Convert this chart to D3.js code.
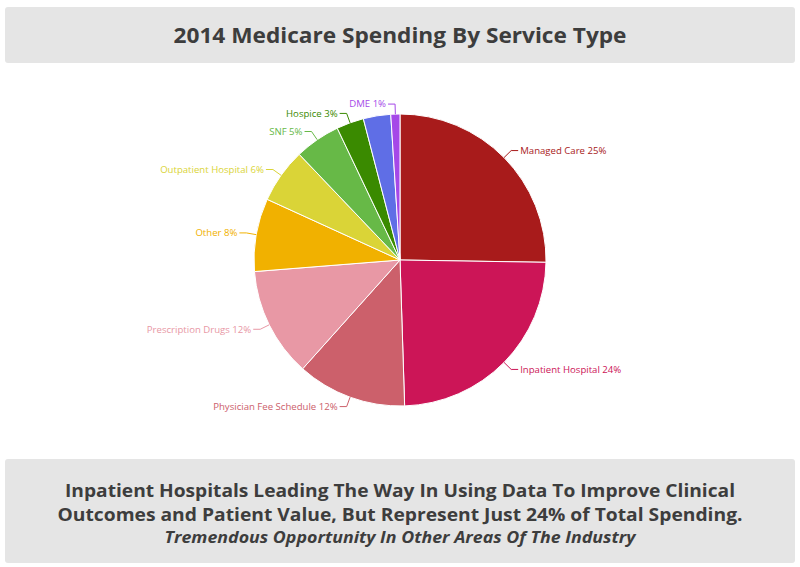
<!DOCTYPE html>
<html>
<head>
<meta charset="utf-8">
<script src="https://cdn.jsdelivr.net/npm/d3@7"></script>
<style>
  html, body { margin: 0; padding: 0; background: #fff; }
  svg { display: block; font-family: "Open Sans", sans-serif; }
</style>
</head>
<body>
<svg id="chart" width="800" height="567"></svg>
<script>
// data, clockwise from 12 o'clock
const categories = ['Managed Care', 'Inpatient Hospital', 'Physician Fee Schedule', 'Prescription Drugs',
  'Other', 'Outpatient Hospital', 'SNF', 'Hospice', 'Home Health', 'DME'];
const shares = [25, 24, 12, 12, 8, 6, 5, 3, 3, 1];
const showLabel = [true, true, true, true, true, true, true, true, false, true];
const colors = ['#a81b1b', '#cc1557', '#cc606b', '#e898a5', '#f1b100', '#dad437',
  '#67b947', '#3a8a00', '#5f6ee6', '#a548e8'];

const titleText = '2014 Medicare Spending By Service Type';
const footerLines = [
  'Inpatient Hospitals Leading The Way In Using Data To Improve Clinical',
  'Outcomes and Patient Value, But Represent Just 24% of Total Spending.'
];
const footerItalic = 'Tremendous Opportunity In Other Areas Of The Industry';

const svg = d3.select('#chart');
const W = 800;

// header box
svg.append('rect').attr('x', 5).attr('y', 7).attr('width', 790).attr('height', 56)
  .attr('rx', 3).attr('fill', '#e5e5e5');
svg.append('text').attr('x', W / 2).attr('y', 43).attr('text-anchor', 'middle')
  .attr('font-size', 22).attr('font-weight', 700).attr('fill', '#3d3d3d')
  .attr('textLength', 453).attr('lengthAdjust', 'spacingAndGlyphs')
  .text(titleText);

// footer box
svg.append('rect').attr('x', 5).attr('y', 459).attr('width', 790).attr('height', 104)
  .attr('rx', 3).attr('fill', '#e5e5e5');
const footLens = [670, 685];
footerLines.forEach((t, i) => {
  svg.append('text').attr('x', W / 2).attr('y', 497 + i * 24).attr('text-anchor', 'middle')
    .attr('font-size', 17.5).attr('font-weight', 700).attr('fill', '#3d3d3d')
    .attr('textLength', footLens[i]).attr('lengthAdjust', 'spacingAndGlyphs')
    .text(t);
});
svg.append('text').attr('x', W / 2).attr('y', 543).attr('text-anchor', 'middle')
  .attr('font-size', 15.5).attr('font-weight', 700).attr('font-style', 'italic').attr('fill', '#3d3d3d')
  .attr('textLength', 471).attr('lengthAdjust', 'spacingAndGlyphs')
  .text(footerItalic);

// pie
const cx = 400, cy = 260, r = 146, labelR = 156;
const data = categories.map((c, i) => ({ name: c, value: shares[i], color: colors[i], show: showLabel[i] }));
const pie = d3.pie().value(d => d.value).sort(null);
const arcs = pie(data);
const arc = d3.arc().innerRadius(0).outerRadius(r);

const g = svg.append('g').attr('transform', `translate(${cx},${cy})`);
g.selectAll('path.slice').data(arcs).join('path')
  .attr('class', 'slice')
  .attr('d', arc)
  .attr('fill', d => d.data.color)
  .attr('stroke', '#fff').attr('stroke-width', 1);

// labels with connectors
const pt = (a, rad) => [Math.sin(a) * rad, -Math.cos(a) * rad];
const labeled = arcs.filter(d => d.data.show);
labeled.forEach(d => {
  const a = (d.startAngle + d.endAngle) / 2;
  const right = Math.sin(a) >= 0;
  const p0 = pt(a, r);
  const p1 = pt(a, labelR);
  const dir = right ? 1 : -1;
  const p2 = [p1[0] + dir * 7, p1[1]];
  g.append('path')
    .attr('d', d3.line()([p0, p1, p2]))
    .attr('fill', 'none').attr('stroke', d.data.color).attr('stroke-width', 1);
  g.append('text')
    .attr('x', p1[0] + dir * 9).attr('y', p1[1]).attr('dy', '0.35em')
    .attr('text-anchor', right ? 'start' : 'end')
    .attr('font-size', 9.6).attr('fill', d.data.color)
    .text(`${d.data.name} ${d.data.value}%`);
});
</script>
</body>
</html>
